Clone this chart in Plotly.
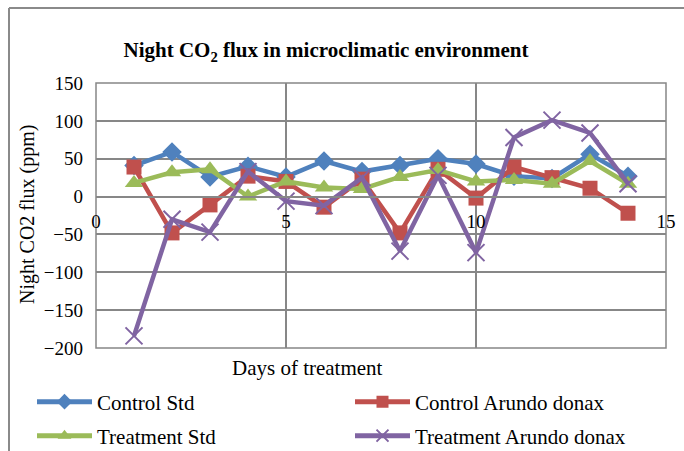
import plotly.graph_objects as go

days = list(range(1, 15))
control_std = [41, 59, 26, 40, 26, 47, 33, 41, 50, 43, 27, 24, 56, 27]
control_arundo = [39, -48, -11, 27, 20, -14, 23, -48, 36, -2, 39, 25, 11, -22]
treatment_std = [18, 32, 36, 0, 20, 12, 10, 26, 35, 20, 22, 17, 47, 17]
treatment_arundo = [-184, -30, -47, 33, -6, -12, 25, -72, 28, -74, 78, 101, 84, 17]

series_names = ["Control Std", "Control Arundo donax", "Treatment Std", "Treatment Arundo donax"]
series_values = [control_std, control_arundo, treatment_std, treatment_arundo]
colors = ["#4F81BD", "#C0504D", "#9BBB59", "#8064A2"]
symbols = ["diamond", "square", "triangle-up", "x-thin"]
sizes = [15, 15, 16, 17]
legend_ids = ["legend", "legend2", "legend3", "legend4"]

FONT = "Liberation Serif"
GRID = "#878787"

fig = go.Figure()
for name, vals, c, s, sz, lg in zip(series_names, series_values, colors, symbols, sizes, legend_ids):
    if s == "x-thin":
        marker = dict(symbol=s, size=sz, color=c, line=dict(color=c, width=2))
    else:
        marker = dict(symbol=s, size=sz, color=c, line=dict(width=0))
    fig.add_trace(go.Scatter(x=days, y=vals, name=name, mode="lines+markers",
                             line=dict(color=c, width=4.5), marker=marker,
                             legend=lg, cliponaxis=False))

plot_l, plot_r, plot_t, plot_b = 96, 666, 83, 348
W, H = 684, 451
pw, ph = plot_r - plot_l, plot_b - plot_t
zero_pos = (plot_b - 196.6) / ph

def px_x(x):
    return (x - plot_l) / pw

def px_y(y):
    return (plot_b - y) / ph

legend_common = dict(orientation="h", xanchor="left", yanchor="middle",
                     xref="container", yref="container", itemsizing="constant",
                     font=dict(family=FONT, size=21), bgcolor="rgba(0,0,0,0)", itemwidth=55,
                     borderwidth=0)

fig.update_layout(
    width=W, height=H,
    margin=dict(l=plot_l, r=W - plot_r, t=plot_t, b=H - plot_b, pad=0, autoexpand=False),
    paper_bgcolor="white", plot_bgcolor="white",
    font=dict(family=FONT, size=19, color="black"),
    title=dict(text="<b>Night CO<sub>2</sub> flux in microclimatic environment</b>",
               x=px_x(326), xref="paper", xanchor="center",
               y=1 - 50 / H, yref="container", yanchor="middle",
               font=dict(family=FONT, size=21, color="black")),
    xaxis=dict(range=[0, 15], dtick=5, tick0=0, showgrid=True, gridcolor=GRID, gridwidth=1.5,
               zeroline=False, showline=True, linecolor=GRID, linewidth=1.5,
               anchor="free", position=zero_pos, ticks="", ticklabelstandoff=8,
               tickfont=dict(family=FONT, size=19)),
    yaxis=dict(range=[-200, 150], dtick=50, tick0=0, showgrid=True, gridcolor=GRID, gridwidth=1.5,
               zeroline=True, zerolinecolor=GRID, zerolinewidth=1.5, showline=False,
               ticks="", ticklabelstandoff=12, tickfont=dict(family=FONT, size=19)),
    legend=dict(x=32 / W, y=1 - 402 / H, **legend_common),
    legend2=dict(x=350 / W, y=1 - 402 / H, **legend_common),
    legend3=dict(x=32 / W, y=1 - 436 / H, **legend_common),
    legend4=dict(x=350 / W, y=1 - 436 / H, **legend_common),
    showlegend=True,
)

fig.add_annotation(text="Days of treatment", x=px_x(307), y=px_y(368), xref="paper", yref="paper",
                   showarrow=False, xanchor="center", yanchor="middle",
                   font=dict(family=FONT, size=21))
fig.add_annotation(text="Night CO2 flux (ppm)", x=px_x(27), y=px_y(215), xref="paper", yref="paper",
                   showarrow=False, xanchor="center", yanchor="middle", textangle=-90,
                   font=dict(family=FONT, size=20))

# plot-area border
fig.add_shape(type="rect", xref="paper", yref="paper", x0=0, x1=1, y0=0, y1=1,
              line=dict(color=GRID, width=1.5), layer="below")
# outer chart border (left and top)
fig.add_shape(type="line", xref="paper", yref="paper", x0=px_x(9), x1=px_x(9), y0=px_y(460), y1=px_y(8),
              line=dict(color="#8a8a8a", width=2))
fig.add_shape(type="line", xref="paper", yref="paper", x0=px_x(9), x1=px_x(700), y0=px_y(8), y1=px_y(8),
              line=dict(color="#8a8a8a", width=2))

fig.write_html("out.html", config={"displayModeBar": False},
               post_script="document.body.style.margin='0';document.body.style.overflow='hidden';")
